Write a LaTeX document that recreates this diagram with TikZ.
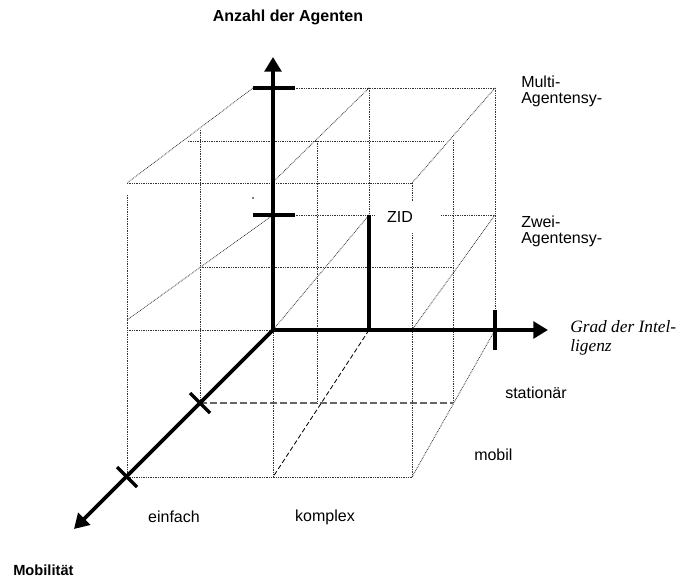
\documentclass[tikz,border=0pt]{standalone}
\usepackage{fontspec}
\setmainfont{Liberation Sans}
\newfontfamily\timesfont{Liberation Serif}
\usetikzlibrary{arrows.meta}
\begin{document}
\begin{tikzpicture}[x=0.75pt,y=-0.75pt,
  grid/.style={draw=black!80, line width=0.6pt, dash pattern=on 0.6pt off 0.7pt},
  gdash/.style={draw=black!60, line width=1pt, dash pattern=on 5pt off 2.5pt},
  bdash/.style={draw=black, line width=0.6pt, dash pattern=on 3.5pt off 2pt},
  axis/.style={draw=black, line width=2.8pt, -{Triangle[length=11pt,width=12.5pt]}},
  tickmark/.style={draw=black, line width=2.4pt},
  zidbar/.style={draw=black, line width=2.6pt},
  lbl/.style={font=\fontsize{12}{11.5}\selectfont, inner sep=0pt, align=left},
  ttl/.style={font=\bfseries\fontsize{12}{14}\selectfont, inner sep=0pt},
]
\useasboundingbox (0,0) rectangle (678,580);

% ---------- named points ----------
% back layer
\coordinate (Btl) at (273,88);  \coordinate (Btm) at (369,88);  \coordinate (Btr) at (495,88);
\coordinate (Bml) at (273,215); \coordinate (Bmm) at (369,215); \coordinate (Bmr) at (495,215);
\coordinate (O)   at (273,330); \coordinate (Bbm) at (369,330); \coordinate (Bbr) at (495,330);
% middle layer
\coordinate (Mt1) at (188,141); \coordinate (Mt2) at (443,141);
\coordinate (Mv1a) at (200,130); \coordinate (Mv1b) at (200,403);
\coordinate (Mv2a) at (317,141); \coordinate (Mv2b) at (317,403);
\coordinate (Mv3a) at (453,140); \coordinate (Mv3b) at (453,403);
\coordinate (Mm1) at (200,267); \coordinate (Mm2) at (453,267);
% front layer
\coordinate (Ft1) at (127,183); \coordinate (Ft2) at (412,183);
\coordinate (Fl1) at (127,195); \coordinate (Fl2) at (127,477);
\coordinate (Fr2) at (412,477);
\coordinate (Fm1) at (127,330);
\coordinate (Fb1) at (273,477);
\coordinate (Fm2) at (412,330);
% diagonal ends
\coordinate (Dtl) at (253,88);  \coordinate (Dml) at (127,320);
\coordinate (Dtm) at (273,182);
% axis tips and ticks
\coordinate (Up)    at (273,57);
\coordinate (Right) at (548,330);
\coordinate (Down)  at (74,529);
\coordinate (T1a) at (253,88);  \coordinate (T1b) at (295,88);
\coordinate (T2a) at (253,215); \coordinate (T2b) at (295,215);
\coordinate (T3a) at (495,310); \coordinate (T3b) at (495,350);
\coordinate (T4a) at (190,393); \coordinate (T4b) at (210,413);
\coordinate (T5a) at (117,467); \coordinate (T5b) at (137,487);

% ---------- thin grid ----------
% back layer
\draw[grid] (Btl) -- (Btr);
\draw[grid] (Bml) -- (Bmr);
\draw[grid] (Btr) -- (Bbr);
\draw[grid] (Btm) -- (Bmm);
% middle layer
\draw[grid] (Mt1) -- (Mt2);
\draw[grid] (Mm1) -- (Mm2);
\draw[grid] (Mv1a) -- (Mv1b);
\draw[grid] (Mv2a) -- (Mv2b);
\draw[grid] (Mv3a) -- (Mv3b);
\draw[gdash] (Mv1b) -- (Mv3b);
% front layer
\draw[grid] (Ft1) -- (Ft2);
\draw[grid] (Fl1) -- (Fl2);
\draw[grid] (Ft2) -- (Fr2);
\draw[grid] (Fm1) -- (Bbr);
\draw[grid] (O) -- (Fb1);
\draw[grid] (Fl2) -- (Fr2);
% depth lines
\draw[grid] (Dtl) -- (Ft1);
\draw[grid] (Btm) -- (Dtm);
\draw[grid] (Btr) -- (Ft2);
\draw[grid] (Bml) -- (Dml);
\draw[grid] (Bmm) -- (O);
\draw[grid] (Bmr) -- (Fm2);
\draw[grid] (Bbr) -- (Fr2);
\draw[bdash] (Bbm) -- (Fb1);

% ---------- ZID label ----------
\node (zidbg) [fill=white, inner sep=0pt, minimum width=48.75pt, minimum height=23.25pt] at (407.5,217.5) {};
\node (zid) [lbl] at (400,217) {ZID};

% ---------- axes ----------
\draw[axis] (O) -- (Up);
\draw[axis] (O) -- (Right);
\draw[axis] (O) -- (Down);
\draw[zidbar] (Bmm) -- (Bbm);
\draw[tickmark] (T1a) -- (T1b);
\draw[tickmark] (T2a) -- (T2b);
\draw[tickmark] (T3a) -- (T3b);
\draw[tickmark] (T4a) -- (T4b);
\draw[tickmark] (T5a) -- (T5b);
\node (dot) [circle, fill=black, inner sep=0pt, minimum size=1.3pt] at (253,198) {};

% ---------- labels ----------
\node (title) [ttl] at (288,17) {Anzahl der Agenten};
\node (multi) [lbl, anchor=north west] at (521,76) {Multi-\\Agentensy-};
\node (zwei)  [lbl, anchor=north west] at (521,216) {Zwei-\\Agentensy-};
\node (grad)  [lbl, anchor=north west, font=\timesfont\itshape\fontsize{13}{14.5}\selectfont] at (570,320) {Grad der Intel-\\ligenz};
\node (stat)  [lbl, anchor=west] at (505,393) {stationär};
\node (mobil) [lbl, anchor=west] at (474,455) {mobil};
\node (einf)  [lbl] at (174,517) {einfach};
\node (kompl) [lbl] at (325,517) {komplex};
\node (mob)   [ttl, anchor=west, font=\bfseries\fontsize{11}{13}\selectfont] at (13,570) {Mobilität};
\end{tikzpicture}
\end{document}
